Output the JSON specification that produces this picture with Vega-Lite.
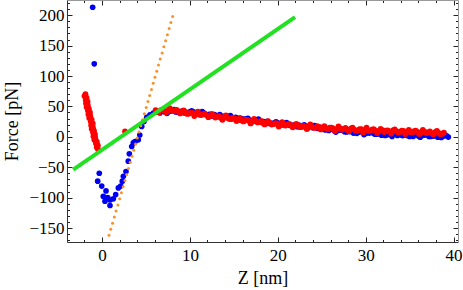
{
  "$schema": "https://vega.github.io/schema/vega-lite/v6.json",
  "width": 391,
  "height": 242,
  "autosize": {"type": "none"},
  "padding": {"left": 67, "top": 0, "right": 5, "bottom": 48},
  "config": {
    "view": {"stroke": null},
    "axis": {
      "labelFont": "Liberation Serif",
      "labelFontSize": 17,
      "labelColor": "#000",
      "titleFont": "Liberation Serif",
      "titleFontSize": 18,
      "titleFontWeight": "normal",
      "titleColor": "#000",
      "grid": false,
      "labelOverlap": false,
      "labelFlush": false,
      "tickColor": "#222",
      "tickWidth": 1
    }
  },
  "datasets": {
    "blue": [
      {"z": -1.06, "f": 213}, {"z": -0.88, "f": 120},
      {"z": -0.31, "f": -60}, {"z": -0.49, "f": -73}, {"z": -0.03, "f": -81}, {"z": 0.46, "f": -89},
      {"z": 0.15, "f": -98}, {"z": 0.65, "f": -100}, {"z": 0.34, "f": -106}, {"z": 0.91, "f": -104},
      {"z": 0.91, "f": -113}, {"z": 1.29, "f": -102}, {"z": 1.56, "f": -95}, {"z": 1.86, "f": -84},
      {"z": 2.13, "f": -81}, {"z": 2.31, "f": -73}, {"z": 2.43, "f": -65}, {"z": 2.73, "f": -57},
      {"z": 2.99, "f": -40}, {"z": 3.11, "f": -28}, {"z": 3.38, "f": -16}, {"z": 3.56, "f": -10},
      {"z": 3.75, "f": -8}, {"z": 4.13, "f": -5}, {"z": 4.3, "f": 3}, {"z": 4.52, "f": 17},
      {"z": 4.78, "f": 25}, {"z": 5.09, "f": 32}, {"z": 5.46, "f": 36}, {"z": 5.84, "f": 39}, {"z": 6.29, "f": 41},
      {"z": 6.6, "f": 39.2}, {"z": 7.0, "f": 43.4}, {"z": 7.4, "f": 38.6}, {"z": 7.8, "f": 42.9},
      {"z": 8.2, "f": 44.9}, {"z": 8.6, "f": 40.7}, {"z": 9.0, "f": 41.5}, {"z": 9.4, "f": 39.3},
      {"z": 9.8, "f": 39.1}, {"z": 10.2, "f": 42.6}, {"z": 10.6, "f": 36.8}, {"z": 11.0, "f": 40.1},
      {"z": 11.4, "f": 41.3}, {"z": 11.8, "f": 36.5}, {"z": 12.2, "f": 36.8}, {"z": 12.6, "f": 34.0},
      {"z": 13.0, "f": 33.2}, {"z": 13.4, "f": 36.4}, {"z": 13.8, "f": 30.7}, {"z": 14.2, "f": 33.9},
      {"z": 14.6, "f": 35.1}, {"z": 15.0, "f": 30.4}, {"z": 15.4, "f": 30.6}, {"z": 15.8, "f": 27.8},
      {"z": 16.2, "f": 27.1}, {"z": 16.6, "f": 30.3}, {"z": 17.0, "f": 24.6}, {"z": 17.4, "f": 27.9},
      {"z": 17.8, "f": 29.1}, {"z": 18.2, "f": 24.4}, {"z": 18.6, "f": 24.7}, {"z": 19.0, "f": 21.9},
      {"z": 19.4, "f": 21.2}, {"z": 19.8, "f": 24.5}, {"z": 20.2, "f": 18.7}, {"z": 20.6, "f": 22.0},
      {"z": 21.0, "f": 23.4}, {"z": 21.4, "f": 18.8}, {"z": 21.8, "f": 19.2}, {"z": 22.2, "f": 16.6},
      {"z": 22.6, "f": 16.1}, {"z": 23.0, "f": 19.5}, {"z": 23.4, "f": 13.9}, {"z": 23.8, "f": 17.3},
      {"z": 24.2, "f": 18.6}, {"z": 24.6, "f": 13.8}, {"z": 25.0, "f": 14.0}, {"z": 25.4, "f": 11.2},
      {"z": 25.8, "f": 10.4}, {"z": 26.2, "f": 13.6}, {"z": 26.6, "f": 7.8}, {"z": 27.0, "f": 11.0},
      {"z": 27.4, "f": 12.5}, {"z": 27.8, "f": 8.1}, {"z": 28.2, "f": 8.6}, {"z": 28.6, "f": 6.1},
      {"z": 29.0, "f": 5.7}, {"z": 29.4, "f": 9.2}, {"z": 29.8, "f": 3.7}, {"z": 30.2, "f": 7.3},
      {"z": 30.6, "f": 8.9}, {"z": 31.0, "f": 4.5}, {"z": 31.4, "f": 5.1}, {"z": 31.8, "f": 2.7},
      {"z": 32.2, "f": 2.3}, {"z": 32.6, "f": 5.9}, {"z": 33.0, "f": 0.5}, {"z": 33.4, "f": 4.3},
      {"z": 33.8, "f": 6.2}, {"z": 34.2, "f": 2.0}, {"z": 34.6, "f": 2.9}, {"z": 35.0, "f": 0.7},
      {"z": 35.4, "f": 0.5}, {"z": 35.8, "f": 4.4}, {"z": 36.2, "f": -0.8}, {"z": 36.6, "f": 3.0},
      {"z": 37.0, "f": 4.8}, {"z": 37.4, "f": 0.6}, {"z": 37.8, "f": 1.4}, {"z": 38.2, "f": -0.8},
      {"z": 38.6, "f": -1.1}, {"z": 39.0, "f": 2.7}, {"z": 39.4, "f": -0.5},
      {"z": 6.8, "f": 42.3}, {"z": 7.2, "f": 40.5}, {"z": 7.6, "f": 41.8}, {"z": 8.0, "f": 42.9},
      {"z": 8.4, "f": 40.8}, {"z": 8.8, "f": 41.6}, {"z": 9.2, "f": 42.4}, {"z": 9.6, "f": 40.2},
      {"z": 10.0, "f": 40.9}, {"z": 10.4, "f": 41.2}, {"z": 10.8, "f": 38.5}, {"z": 11.2, "f": 38.7},
      {"z": 11.6, "f": 38.9}, {"z": 12.0, "f": 36.2}, {"z": 12.4, "f": 36.4}, {"z": 12.8, "f": 36.6},
      {"z": 13.2, "f": 33.8}, {"z": 13.6, "f": 34.1}, {"z": 14.0, "f": 34.3}, {"z": 14.4, "f": 31.5},
      {"z": 14.8, "f": 31.8}, {"z": 15.2, "f": 32.0}, {"z": 15.6, "f": 29.2}, {"z": 16.0, "f": 29.5},
      {"z": 16.4, "f": 29.7}, {"z": 16.8, "f": 27.0}, {"z": 17.2, "f": 27.3}, {"z": 17.6, "f": 27.5},
      {"z": 18.0, "f": 24.8}, {"z": 18.4, "f": 25.1}, {"z": 18.8, "f": 25.3}, {"z": 19.2, "f": 22.6},
      {"z": 19.6, "f": 22.9}, {"z": 20.0, "f": 23.1}, {"z": 20.4, "f": 20.4}, {"z": 20.8, "f": 20.7},
      {"z": 21.2, "f": 21.1}, {"z": 21.6, "f": 18.5}, {"z": 22.0, "f": 18.9}, {"z": 22.4, "f": 19.4},
      {"z": 22.8, "f": 16.8}, {"z": 23.2, "f": 17.2}, {"z": 23.6, "f": 17.6}, {"z": 24.0, "f": 15.0},
      {"z": 24.4, "f": 15.2}, {"z": 24.8, "f": 15.4}, {"z": 25.2, "f": 12.6}, {"z": 25.6, "f": 12.8},
      {"z": 26.0, "f": 13.0}, {"z": 26.4, "f": 10.2}, {"z": 26.8, "f": 10.4}, {"z": 27.2, "f": 10.8},
      {"z": 27.6, "f": 8.3}, {"z": 28.0, "f": 8.9}, {"z": 28.4, "f": 9.4}, {"z": 28.8, "f": 6.9},
      {"z": 29.2, "f": 7.5}, {"z": 29.6, "f": 8.0}, {"z": 30.0, "f": 5.5}, {"z": 30.4, "f": 6.1},
      {"z": 30.8, "f": 6.7}, {"z": 31.2, "f": 4.3}, {"z": 31.6, "f": 4.9}, {"z": 32.0, "f": 5.5},
      {"z": 32.4, "f": 3.1}, {"z": 32.8, "f": 3.7}, {"z": 33.2, "f": 4.4}, {"z": 33.6, "f": 2.3},
      {"z": 34.0, "f": 3.1}, {"z": 34.4, "f": 4.0}, {"z": 34.8, "f": 1.8}, {"z": 35.2, "f": 2.6},
      {"z": 35.6, "f": 3.5}, {"z": 36.0, "f": 1.3}, {"z": 36.4, "f": 2.1}, {"z": 36.8, "f": 2.9},
      {"z": 37.2, "f": 0.7}, {"z": 37.6, "f": 1.5}, {"z": 38.0, "f": 2.3}, {"z": 38.4, "f": 0.1},
      {"z": 38.8, "f": 0.8}, {"z": 39.2, "f": 1.6}
    ],
    "red": [
      {"z": -1.88, "f": 70}, {"z": -1.99, "f": 67}, {"z": -1.75, "f": 64}, {"z": -1.85, "f": 61},
      {"z": -1.64, "f": 58}, {"z": -1.82, "f": 55}, {"z": -1.62, "f": 52}, {"z": -1.75, "f": 49},
      {"z": -1.49, "f": 46}, {"z": -1.59, "f": 43}, {"z": -1.37, "f": 40}, {"z": -1.54, "f": 37},
      {"z": -1.33, "f": 34}, {"z": -1.45, "f": 31}, {"z": -1.18, "f": 28}, {"z": -1.27, "f": 25},
      {"z": -1.05, "f": 22}, {"z": -1.23, "f": 19}, {"z": -1.04, "f": 16}, {"z": -1.17, "f": 13},
      {"z": -0.91, "f": 10}, {"z": -1.01, "f": 7}, {"z": -0.8, "f": 4}, {"z": -0.97, "f": 1},
      {"z": -0.76, "f": -2}, {"z": -0.87, "f": -5}, {"z": -0.59, "f": -8}, {"z": -0.68, "f": -11},
      {"z": -0.47, "f": -14}, {"z": -0.59, "f": -17}, {"z": -0.47, "f": -20},
      {"z": -1.90, "f": 68}, {"z": -1.81, "f": 62}, {"z": -1.73, "f": 56}, {"z": -1.64, "f": 50},
      {"z": -1.56, "f": 44}, {"z": -1.45, "f": 38}, {"z": -1.35, "f": 32}, {"z": -1.24, "f": 26},
      {"z": -1.14, "f": 20}, {"z": -1.06, "f": 14}, {"z": -0.98, "f": 8}, {"z": -0.89, "f": 2},
      {"z": -0.77, "f": -4}, {"z": -0.65, "f": -10}, {"z": -0.53, "f": -16},
      {"z": 2.62, "f": 9},
      {"z": 6.1, "f": 44}, {"z": 6.5, "f": 40.3}, {"z": 6.9, "f": 44.7}, {"z": 7.3, "f": 39.9},
      {"z": 7.7, "f": 47}, {"z": 8.1, "f": 42.3}, {"z": 8.5, "f": 44.4}, {"z": 8.9, "f": 38.5},
      {"z": 9.3, "f": 43.6}, {"z": 9.7, "f": 37.7}, {"z": 10.1, "f": 39.8}, {"z": 10.5, "f": 34.1},
      {"z": 10.9, "f": 41.4}, {"z": 11.3, "f": 35.7}, {"z": 11.7, "f": 38}, {"z": 12.1, "f": 32.3},
      {"z": 12.5, "f": 37.5}, {"z": 12.9, "f": 31.7}, {"z": 13.3, "f": 33.9}, {"z": 13.7, "f": 28.1},
      {"z": 14.1, "f": 35.3}, {"z": 14.5, "f": 29.4}, {"z": 14.9, "f": 31.6}, {"z": 15.3, "f": 25.8},
      {"z": 15.7, "f": 31}, {"z": 16.1, "f": 25.3}, {"z": 16.5, "f": 27.7}, {"z": 16.9, "f": 22},
      {"z": 17.3, "f": 29.4}, {"z": 17.7, "f": 23.7}, {"z": 18.1, "f": 26.1}, {"z": 18.5, "f": 20.4},
      {"z": 18.9, "f": 25.8}, {"z": 19.3, "f": 20.1}, {"z": 19.7, "f": 22.5}, {"z": 20.1, "f": 16.8},
      {"z": 20.5, "f": 24.2}, {"z": 20.9, "f": 18.6}, {"z": 21.3, "f": 21.2}, {"z": 21.7, "f": 15.7},
      {"z": 22.1, "f": 21.2}, {"z": 22.5, "f": 15.8}, {"z": 22.9, "f": 18.3}, {"z": 23.3, "f": 12.8},
      {"z": 23.7, "f": 20.4}, {"z": 24.1, "f": 14.9}, {"z": 24.5, "f": 17.5}, {"z": 24.9, "f": 12.1},
      {"z": 25.3, "f": 17.7}, {"z": 25.7, "f": 12.3}, {"z": 26.1, "f": 14.9}, {"z": 26.5, "f": 9.5},
      {"z": 26.9, "f": 17.1}, {"z": 27.3, "f": 11.8}, {"z": 27.7, "f": 14.5}, {"z": 28.1, "f": 9.3},
      {"z": 28.5, "f": 15}, {"z": 28.9, "f": 9.7}, {"z": 29.3, "f": 12.5}, {"z": 29.7, "f": 7.2},
      {"z": 30.1, "f": 14.9}, {"z": 30.5, "f": 9.7}, {"z": 30.9, "f": 12.5}, {"z": 31.3, "f": 6.3},
      {"z": 31.7, "f": 13.1}, {"z": 32.1, "f": 7.9}, {"z": 32.5, "f": 10.7}, {"z": 32.9, "f": 5.5},
      {"z": 33.3, "f": 12.3}, {"z": 33.7, "f": 7.1}, {"z": 34.1, "f": 9.9}, {"z": 34.5, "f": 4.6},
      {"z": 34.9, "f": 11.4}, {"z": 35.3, "f": 7.2}, {"z": 35.7, "f": 10.0}, {"z": 36.1, "f": 4.7},
      {"z": 36.5, "f": 11.5}, {"z": 36.9, "f": 6.2}, {"z": 37.3, "f": 9.0}, {"z": 37.7, "f": 3.7},
      {"z": 38.1, "f": 9.5}, {"z": 38.5, "f": 4.2}, {"z": 38.9, "f": 7.0},
      {"z": 6.3, "f": 40.7}, {"z": 6.7, "f": 44.0}, {"z": 7.1, "f": 43.8}, {"z": 7.5, "f": 42.8},
      {"z": 7.9, "f": 44.5}, {"z": 8.3, "f": 42.9}, {"z": 8.7, "f": 41.0}, {"z": 9.1, "f": 42.0},
      {"z": 9.5, "f": 40.2}, {"z": 9.9, "f": 38.3}, {"z": 10.3, "f": 39.5}, {"z": 10.7, "f": 37.8},
      {"z": 11.1, "f": 36.1}, {"z": 11.5, "f": 37.4}, {"z": 11.9, "f": 35.7}, {"z": 12.3, "f": 33.9},
      {"z": 12.7, "f": 35.1}, {"z": 13.1, "f": 33.3}, {"z": 13.5, "f": 31.5}, {"z": 13.9, "f": 32.7},
      {"z": 14.3, "f": 30.9}, {"z": 14.7, "f": 29.0}, {"z": 15.1, "f": 30.2}, {"z": 15.5, "f": 28.4},
      {"z": 15.9, "f": 26.7}, {"z": 16.3, "f": 28.0}, {"z": 16.7, "f": 26.4}, {"z": 17.1, "f": 24.7},
      {"z": 17.5, "f": 26.1}, {"z": 17.9, "f": 24.4}, {"z": 18.3, "f": 22.8}, {"z": 18.7, "f": 24.1},
      {"z": 19.1, "f": 22.5}, {"z": 19.5, "f": 20.8}, {"z": 19.9, "f": 22.2}, {"z": 20.3, "f": 20.5},
      {"z": 20.7, "f": 18.9}, {"z": 21.1, "f": 20.4}, {"z": 21.5, "f": 19.0}, {"z": 21.9, "f": 17.5},
      {"z": 22.3, "f": 19.0}, {"z": 22.7, "f": 17.6}, {"z": 23.1, "f": 16.1}, {"z": 23.5, "f": 17.6},
      {"z": 23.9, "f": 16.2}, {"z": 24.3, "f": 14.7}, {"z": 24.7, "f": 16.3}, {"z": 25.1, "f": 14.9},
      {"z": 25.5, "f": 13.5}, {"z": 25.9, "f": 15.1}, {"z": 26.3, "f": 13.7}, {"z": 26.7, "f": 12.3},
      {"z": 27.1, "f": 14.0}, {"z": 27.5, "f": 12.7}, {"z": 27.9, "f": 11.4}, {"z": 28.3, "f": 13.2},
      {"z": 28.7, "f": 11.9}, {"z": 29.1, "f": 10.6}, {"z": 29.5, "f": 12.4}, {"z": 29.9, "f": 11.1},
      {"z": 30.3, "f": 9.9}, {"z": 30.7, "f": 11.7}, {"z": 31.1, "f": 10.5}, {"z": 31.5, "f": 9.3},
      {"z": 31.9, "f": 11.1}, {"z": 32.3, "f": 9.9}, {"z": 32.7, "f": 8.7}, {"z": 33.1, "f": 10.4},
      {"z": 33.5, "f": 9.2}, {"z": 33.9, "f": 8.0}, {"z": 34.3, "f": 9.8}, {"z": 34.7, "f": 8.5},
      {"z": 35.1, "f": 7.3}, {"z": 35.5, "f": 9.1}, {"z": 35.9, "f": 7.9}, {"z": 36.3, "f": 6.6},
      {"z": 36.7, "f": 8.4}, {"z": 37.1, "f": 7.1}, {"z": 37.5, "f": 5.9}, {"z": 37.9, "f": 7.6},
      {"z": 38.3, "f": 6.4}, {"z": 38.7, "f": 5.1}
    ],
    "orange": [
      {"z": 0.80, "f": -162}, {"z": 1.00, "f": -152}, {"z": 1.20, "f": -142}, {"z": 1.40, "f": -132},
      {"z": 1.60, "f": -122}, {"z": 1.81, "f": -112}, {"z": 2.01, "f": -102}, {"z": 2.21, "f": -92},
      {"z": 2.41, "f": -82}, {"z": 2.61, "f": -72}, {"z": 2.81, "f": -62}, {"z": 3.01, "f": -52},
      {"z": 3.21, "f": -42}, {"z": 3.42, "f": -32}, {"z": 3.62, "f": -22}, {"z": 3.82, "f": -12},
      {"z": 4.02, "f": -2}, {"z": 4.22, "f": 8}, {"z": 4.42, "f": 18}, {"z": 4.62, "f": 28},
      {"z": 4.82, "f": 38}, {"z": 5.03, "f": 48}, {"z": 5.23, "f": 58}, {"z": 5.43, "f": 68},
      {"z": 5.63, "f": 78}, {"z": 5.83, "f": 88}, {"z": 6.03, "f": 98}, {"z": 6.23, "f": 108},
      {"z": 6.43, "f": 118}, {"z": 6.63, "f": 128}, {"z": 6.84, "f": 138}, {"z": 7.04, "f": 148},
      {"z": 7.24, "f": 158}, {"z": 7.44, "f": 168}, {"z": 7.64, "f": 178}, {"z": 7.84, "f": 188},
      {"z": 8.04, "f": 198}
    ],
    "green": [
      {"z": -3.27, "f": -54}, {"z": 21.96, "f": 197}
    ]
  },
  "resolve": {"axis": {"x": "independent", "y": "independent"}},
  "layer": [
    {
      "data": {"name": "blue"},
      "mark": {"type": "circle", "size": 32, "color": "#0000f0", "opacity": 1},
      "encoding": {
        "x": {
          "field": "z", "type": "quantitative",
          "scale": {"domain": [-3.98, 40.5], "nice": false, "zero": false},
          "axis": {
            "orient": "bottom",
            "values": [-2, 0, 2, 4, 6, 8, 10, 12, 14, 16, 18, 20, 22, 24, 26, 28, 30, 32, 34, 36, 38, 40],
            "labelExpr": "datum.value % 10 === 0 ? datum.label : ''",
            "tickSize": {"condition": {"test": "datum.value % 10 === 0", "value": -5}, "value": -2.5},
            "labelPadding": 10,
            "domainColor": "#333",
            "title": "Z [nm]",
            "titleBaseline": "alphabetic",
            "titleY": 41
          }
        },
        "y": {
          "field": "f", "type": "quantitative",
          "scale": {"domain": [-173, 225], "nice": false, "zero": false},
          "axis": {
            "orient": "left",
            "values": [-170, -160, -150, -140, -130, -120, -110, -100, -90, -80, -70, -60, -50, -40, -30, -20, -10, 0, 10, 20, 30, 40, 50, 60, 70, 80, 90, 100, 110, 120, 130, 140, 150, 160, 170, 180, 190, 200, 210, 220],
            "labelExpr": "datum.value % 50 === 0 ? datum.label : ''",
            "tickSize": {"condition": {"test": "datum.value % 50 === 0", "value": -5}, "value": -2.5},
            "labelPadding": 8,
            "domainColor": "#333",
            "title": "Force [pN]",
            "titleBaseline": "alphabetic",
            "titleX": -50,
            "titleY": 121,
            "titleAngle": -90
          }
        }
      }
    },
    {
      "data": {"name": "red"},
      "mark": {"type": "circle", "size": 34, "color": "#ff0000", "opacity": 1},
      "encoding": {
        "x": {"field": "z", "type": "quantitative", "scale": {"domain": [-3.98, 40.5], "nice": false, "zero": false}, "axis": null},
        "y": {"field": "f", "type": "quantitative", "scale": {"domain": [-173, 225], "nice": false, "zero": false}, "axis": null}
      }
    },
    {
      "data": {"name": "orange"},
      "mark": {"type": "circle", "size": 9, "color": "#f7922a", "opacity": 1},
      "encoding": {
        "x": {"field": "z", "type": "quantitative", "scale": {"domain": [-3.98, 40.5], "nice": false, "zero": false}, "axis": null},
        "y": {"field": "f", "type": "quantitative", "scale": {"domain": [-173, 225], "nice": false, "zero": false}, "axis": null}
      }
    },
    {
      "data": {"name": "green"},
      "mark": {"type": "line", "strokeWidth": 4, "color": "#22e022"},
      "encoding": {
        "x": {
          "field": "z", "type": "quantitative",
          "scale": {"domain": [-3.98, 40.5], "nice": false, "zero": false},
          "axis": {
            "orient": "top",
            "values": [-2, 0, 2, 4, 6, 8, 10, 12, 14, 16, 18, 20, 22, 24, 26, 28, 30, 32, 34, 36, 38, 40],
            "labels": false,
            "tickSize": {"condition": {"test": "datum.value % 10 === 0", "value": -5}, "value": -2.5},
            "domainColor": "#999",
            "title": null
          }
        },
        "y": {
          "field": "f", "type": "quantitative",
          "scale": {"domain": [-173, 225], "nice": false, "zero": false},
          "axis": {
            "orient": "right",
            "values": [-170, -160, -150, -140, -130, -120, -110, -100, -90, -80, -70, -60, -50, -40, -30, -20, -10, 0, 10, 20, 30, 40, 50, 60, 70, 80, 90, 100, 110, 120, 130, 140, 150, 160, 170, 180, 190, 200, 210, 220],
            "labels": false,
            "tickSize": {"condition": {"test": "datum.value % 50 === 0", "value": -5}, "value": -2.5},
            "domainColor": "#999",
            "title": null
          }
        }
      }
    }
  ]
}
